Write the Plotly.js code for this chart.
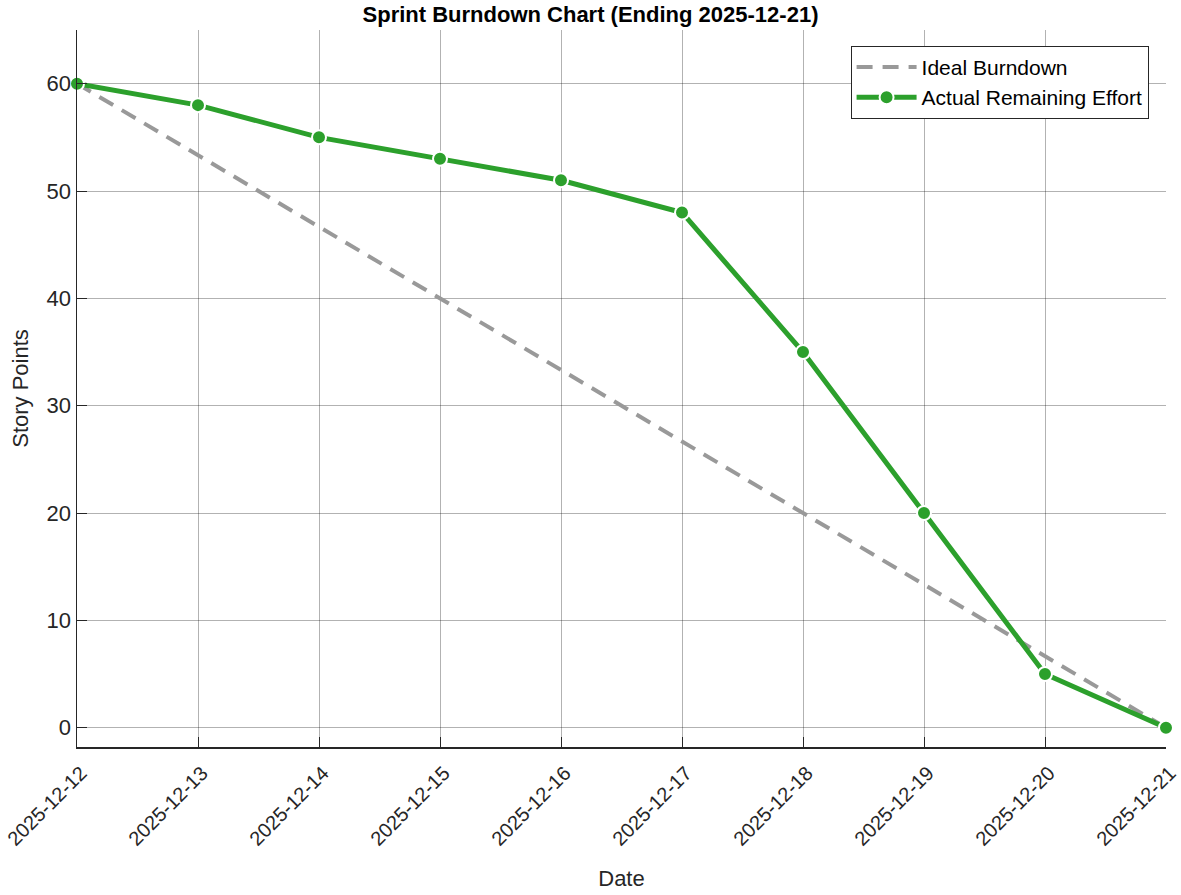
<!DOCTYPE html>
<html><head><meta charset="utf-8">
<script src="https://cdn.plot.ly/plotly-3.0.1.min.js"></script>
<style>body{margin:0;padding:0;background:#fff}#chart{width:1181px;height:895px}</style>
</head><body><div id="chart"></div>
<script>
const dates = ["2025-12-12","2025-12-13","2025-12-14","2025-12-15","2025-12-16","2025-12-17","2025-12-18","2025-12-19","2025-12-20","2025-12-21"];
const idealRemaining = [60, 53.33, 46.67, 40, 33.33, 26.67, 20, 13.33, 6.67, 0];
const actualRemaining = [60, 58, 55, 53, 51, 48, 35, 20, 5, 0];

const traces = [
  {x: dates, y: idealRemaining, type: 'scatter', mode: 'lines', name: 'Ideal Burndown',
   line: {color: '#999999', width: 4, dash: '16px,10px'}, cliponaxis: false},
  {x: dates, y: actualRemaining, type: 'scatter', mode: 'lines+markers', name: 'Actual Remaining Effort',
   line: {color: '#2ca02c', width: 5}, marker: {color: '#2ca02c', size: 14, line: {color: '#ffffff', width: 2}},
   cliponaxis: false}
];
const font = {family: 'Liberation Sans, Arial, sans-serif', color: '#262626'};
const layout = {
  width: 1181, height: 895,
  margin: {l: 77, r: 15, t: 30, b: 148},
  paper_bgcolor: '#ffffff', plot_bgcolor: '#ffffff',
  font: Object.assign({size: 22}, font),
  title: {text: '<b>Sprint Burndown Chart (Ending 2025-12-21)</b>', x: 0.5, xanchor: 'center', y: 0.984, yanchor: 'middle',
          font: {family: 'Liberation Sans, Arial, sans-serif', size: 22, color: '#000000'}},
  xaxis: {type: 'category', range: [0, 9], tickangle: -45, showgrid: true, gridcolor: 'rgba(0,0,0,0.3)', gridwidth: 1,
          showline: true, linecolor: '#262626', linewidth: 1.5, mirror: false, ticks: 'inside', ticklen: 10, tickcolor: '#262626',
          tickfont: {size: 20, color: '#262626'}, zeroline: false, ticklabelshift: 4, ticklabelstandoff: 5,
          title: {text: 'Date', font: {size: 22, color: '#262626'}, standoff: 22}},
  yaxis: {range: [-1.8, 65], tickvals: [0,10,20,30,40,50,60], showgrid: true, gridcolor: 'rgba(0,0,0,0.3)', gridwidth: 1,
          showline: true, linecolor: '#262626', linewidth: 1.5, mirror: false, ticks: 'inside', ticklen: 10, tickcolor: '#262626',
          tickfont: {size: 22, color: '#262626'}, zeroline: false,
          title: {text: 'Story Points', font: {size: 22, color: '#262626'}, standoff: 12}},
  legend: {x: 0.984, xanchor: 'right', y: 0.978, yanchor: 'top', bgcolor: '#ffffff', bordercolor: '#262626', borderwidth: 1,
           font: {size: 21, color: '#000000'}, tracegroupgap: 0, itemwidth: 60},
  showlegend: true
};
Plotly.newPlot('chart', traces, layout, {displayModeBar: false, staticPlot: true});
</script></body></html>
